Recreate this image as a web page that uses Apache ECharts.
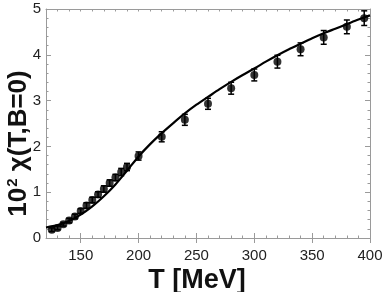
<!DOCTYPE html>
<html><head><meta charset="utf-8">
<script src="https://cdn.jsdelivr.net/npm/echarts@6/dist/echarts.min.js"></script>
<style>html,body{margin:0;padding:0;background:#fff}#c{width:385px;height:292px}</style>
</head><body><div id="c"></div>
<script>
const pointT   = [125,130,135,140,145,150,155,160,165,170,175,180,185,190,200,220,240,260,280,300,320,340,360,380,395];
const pointChi = [0.18,0.22,0.30,0.38,0.47,0.59,0.71,0.83,0.95,1.07,1.20,1.32,1.44,1.55,1.79,2.21,2.58,2.93,3.27,3.56,3.85,4.12,4.38,4.61,4.80];
const pointErr = [0.04,0.04,0.04,0.05,0.05,0.05,0.06,0.06,0.06,0.07,0.07,0.07,0.08,0.08,0.09,0.11,0.12,0.12,0.13,0.13,0.14,0.14,0.15,0.15,0.16];
const curveT   = [120,130,140,150,160,170,180,190,200,210,220,230,240,250,260,270,280,290,300,310,320,330,340,350,360,370,380,390,400];
const curveChi = [0.23,0.28,0.37,0.51,0.69,0.91,1.17,1.47,1.78,2.05,2.29,2.51,2.72,2.91,3.08,3.25,3.41,3.56,3.70,3.85,3.99,4.12,4.24,4.36,4.47,4.57,4.67,4.77,4.86];
const xMajor = [150,200,250,300,350,400];

const frame = '#9a9a9a';
const labelColor = '#222';
const xMinor = (pos) => ({
  type:'value', position:pos, min:120, max:400, interval:10,
  axisLine:{show:true, onZero:false, lineStyle:{color:frame, width:1}},
  axisTick:{show:true, inside:true, length:2.5, lineStyle:{color:frame}},
  axisLabel:{show:false}, splitLine:{show:false}
});
const xMaj = (pos) => ({
  type:'value', position:pos, min:120, max:400,
  axisLine:{show:false},
  axisTick:{show:true, inside:true, length:5, customValues:xMajor, lineStyle:{color:frame}},
  axisLabel:{show:false}, splitLine:{show:false}
});
const xBottom = xMinor('bottom');
xBottom.axisLabel = {show:true, customValues:xMajor, color:labelColor, fontSize:15,
  fontFamily:'Liberation Sans, Arial, sans-serif', margin:10};
xBottom.name = 'T [MeV]';
xBottom.nameLocation = 'middle';
xBottom.nameGap = 29;
xBottom.nameMoveOverlap = false;
xBottom.nameTextStyle = {fontSize:27, fontWeight:'bold', color:'#111',
  fontFamily:'Liberation Sans, Arial, sans-serif', padding:[0,22,0,0]};

const yAx = (pos, withLabel) => ({
  type:'value', position:pos, min:0, max:5, interval:1,
  axisLine:{show:true, onZero:false, lineStyle:{color:frame, width:1}},
  axisTick:{show:true, inside:true, length:5, lineStyle:{color:frame}},
  minorTick:{show:true, splitNumber:5, length:2.5, lineStyle:{color:frame}},
  axisLabel:{show:withLabel, color:labelColor, fontSize:15,
    fontFamily:'Liberation Sans, Arial, sans-serif', margin:5},
  splitLine:{show:false}
});
const yLeft = yAx('left', true);
yLeft.name = '{b|10}{s|2}{b| χ(T,B=0)}';
yLeft.nameLocation = 'middle';
yLeft.nameGap = 14;
yLeft.nameRotate = 90;
yLeft.nameMoveOverlap = false;
yLeft.nameTextStyle = {
  padding:[0,40,0,0],
  rich:{
    b:{fontSize:26, fontWeight:'bold', color:'#111', fontFamily:'Liberation Sans, Arial, sans-serif'},
    s:{fontSize:15, fontWeight:'bold', color:'#111', fontFamily:'Liberation Sans, Arial, sans-serif', verticalAlign:'top', padding:[0,0,12,1]}
  }
};

const chart = echarts.init(document.getElementById('c'), null, {renderer:'canvas'});
chart.setOption({
  animation:false,
  backgroundColor:'#fff',
  grid:{left:46, right:15, top:9, bottom:54, containLabel:false, outerBoundsMode:'none'},
  xAxis:[xBottom, xMaj('bottom'), xMinor('top'), xMaj('top')],
  yAxis:[yLeft, yAx('right', false)],
  series:[
    {
      type:'line', xAxisIndex:0, yAxisIndex:0,
      data: curveT.map((t,i)=>[t, curveChi[i]]),
      smooth:0.3, showSymbol:false, symbol:'none',
      lineStyle:{color:'#000', width:2.2}, z:3
    },
    {
      type:'custom', xAxisIndex:0, yAxisIndex:0,
      data: pointT.map((t,i)=>[t, pointChi[i]-pointErr[i], pointChi[i]+pointErr[i]]),
      renderItem:(params, api)=>{
        const lo = api.coord([api.value(0), api.value(1)]);
        const hi = api.coord([api.value(0), api.value(2)]);
        const w = 3;
        const st = {stroke:'#000', lineWidth:1.5};
        return {type:'group', children:[
          {type:'line', shape:{x1:lo[0], y1:lo[1], x2:hi[0], y2:hi[1]}, style:st},
          {type:'line', shape:{x1:lo[0]-w, y1:lo[1], x2:lo[0]+w, y2:lo[1]}, style:st},
          {type:'line', shape:{x1:hi[0]-w, y1:hi[1], x2:hi[0]+w, y2:hi[1]}, style:st}
        ]};
      }, z:4
    },
    {
      type:'scatter', xAxisIndex:0, yAxisIndex:0,
      data: pointT.map((t,i)=>[t, pointChi[i]]),
      symbol:'circle', symbolSize:8,
      itemStyle:{color:'#000'}, z:5
    }
  ]
});
</script></body></html>
